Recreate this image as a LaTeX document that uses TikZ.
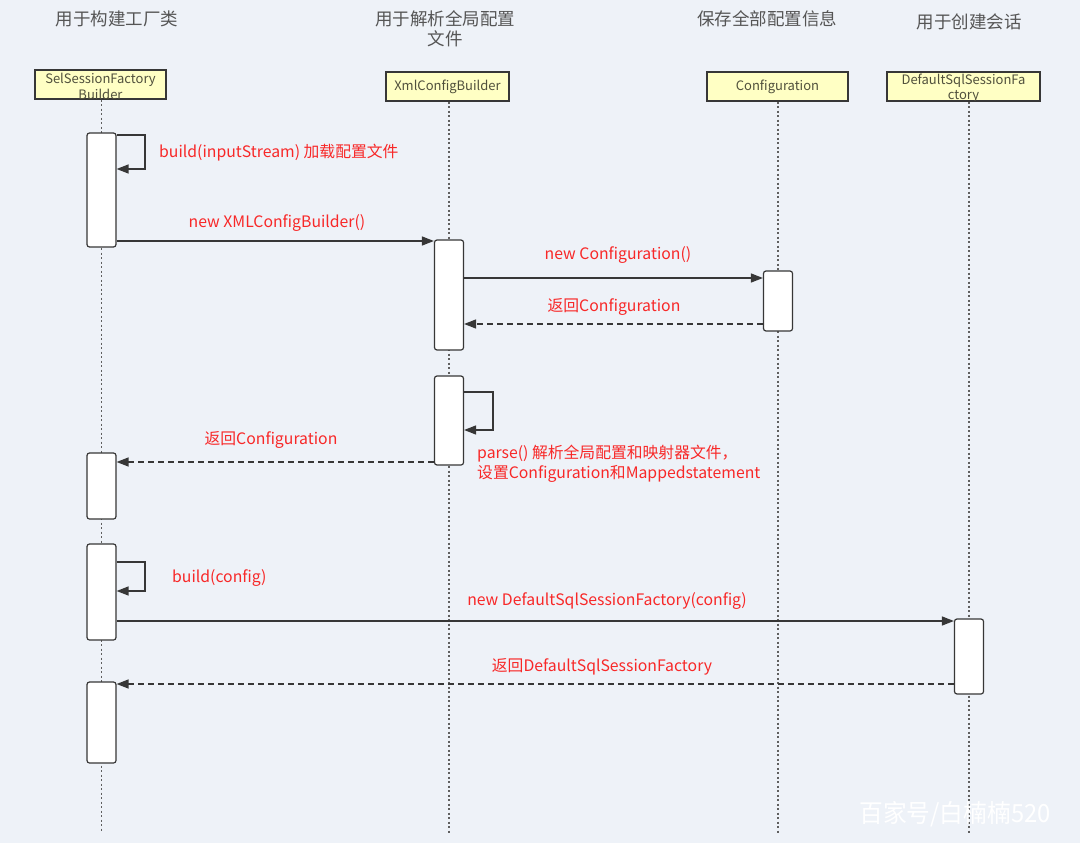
\documentclass[tikz,border=0pt]{standalone}
\usepackage{fontspec}
\setmainfont{Noto Sans CJK SC}
\usetikzlibrary{arrows.meta}
\definecolor{bg}{RGB}{238,242,248}
\definecolor{hdfill}{RGB}{255,255,196}
\definecolor{hdtext}{RGB}{80,80,60}
\definecolor{ttl}{RGB}{85,85,85}
\definecolor{lbl}{RGB}{248,40,40}
\definecolor{ln}{RGB}{55,55,55}
\tikzset{
  title/.style={text=ttl, font=\fontsize{17.5}{20}\selectfont, align=center, inner sep=0},
  headbox/.style={draw=ln, line width=1.3pt, fill=hdfill, inner sep=0},
  headtext/.style={text=hdtext, font=\fontsize{13}{15.5}\selectfont, align=center, inner sep=0},
  lifeline/.style={draw=ln!80, line width=1.1pt, dash pattern=on 2pt off 2.5pt},
  act/.style={draw=ln, line width=1.2pt, fill=white, rounded corners=2.5pt, minimum width=29, inner sep=0},
  msg/.style={draw=ln, line width=1.4pt, -{Triangle[length=12pt,width=9pt]}},
  ret/.style={msg, dash pattern=on 6pt off 4pt},
  lab/.style={text=lbl, font=\fontsize{15.8}{19.5}\selectfont, inner sep=0}
}
\begin{document}
\begin{tikzpicture}[x=1pt,y=-1pt]
\fill[bg] (0,0) rectangle (1080,843);
\useasboundingbox (0,0) rectangle (1080,843);

% titles
\node[title] (t1) at (117,19) {用于构建工厂类};
\node[title] (t2) at (445,29) {用于解析全局配置\\文件};
\node[title] (t3) at (767,19) {保存全部配置信息};
\node[title] (t4) at (969,22) {用于创建会话};

% head boxes
\node[headbox, minimum width=131, minimum height=29] (h1) at (100.5,84.5) {};
\node[headbox, minimum width=123, minimum height=29] (h2) at (447.5,86.5) {};
\node[headbox, minimum width=141, minimum height=29] (h3) at (777.5,86.5) {};
\node[headbox, minimum width=153, minimum height=29] (h4) at (963.5,86.5) {};
\begin{scope}
\clip (h1.south west) rectangle (h1.north east);
\node[headtext] (h1t) at (100.5,86.5) {SelSessionFactory\\Builder};
\end{scope}
\node[headtext] (h2t) at (h2) {XmlConfigBuilder};
\node[headtext] (h3t) at (h3) {Configuration};
\begin{scope}
\clip (h4.south west) rectangle (h4.north east);
\node[headtext] (h4t) at (963.5,88.5) {DefaultSqlSessionFa\\ctory};
\end{scope}
\draw[ln, line width=1.3pt] (h1.south west) rectangle (h1.north east);
\draw[ln, line width=1.3pt] (h4.south west) rectangle (h4.north east);

% lifelines
\coordinate (e1) at (101.5,833);
\coordinate (e2) at (449,833);
\coordinate (e3) at (778,833);
\coordinate (e4) at (969,833);
\draw[lifeline] (h1.south -| e1) -- (e1);
\draw[lifeline] (h2.south -| e2) -- (e2);
\draw[lifeline] (h3.south -| e3) -- (e3);
\draw[lifeline] (h4.south -| e4) -- (e4);

% activations
\node[act, minimum height=114] (a1) at (101.5,190) {};
\node[act, minimum height=110] (a2) at (449,295) {};
\node[act, minimum height=60] (a3) at (778,301) {};
\node[act, minimum height=89] (a4) at (449,420.5) {};
\node[act, minimum height=66] (a5) at (101.5,486) {};
\node[act, minimum height=96] (a6) at (101.5,592) {};
\node[act, minimum height=75] (a7) at (969,656.5) {};
\node[act, minimum height=81] (a8) at (101.5,722.5) {};

% self call 1
\draw[msg] (a1.east |- 0,135) -- (145,135) -- (145,169) -- (a1.east |- 0,169);
\node[lab, anchor=west] (l1) at (159,153) {build(inputStream) 加载配置文件};

% new XMLConfigBuilder
\draw[msg] (a1.east |- 0,241) -- (a2.west |- 0,241);
\node[lab] (l2) at (277,223) {new XMLConfigBuilder()};

% new Configuration
\draw[msg] (a2.east |- 0,278) -- (a3.west |- 0,278);
\node[lab] (l3) at (618,255) {new Configuration()};

% return Configuration
\draw[ret] (a3.west |- 0,324) -- (a2.east |- 0,324);
\node[lab] (l4) at (614,307) {返回Configuration};

% self call parse
\draw[msg] (a4.east |- 0,392) -- (493,392) -- (493,430) -- (a4.east |- 0,430);
\node[lab, anchor=north west, align=left] (l5) at (477,445) {parse() 解析全局配置和映射器文件，\\设置Configuration和Mappedstatement};

% return Configuration 2
\draw[ret] (a4.west |- 0,462) -- (a5.east |- 0,462);
\node[lab] (l6) at (271,440) {返回Configuration};

% self call build(config)
\draw[msg] (a6.east |- 0,562) -- (145,562) -- (145,591) -- (a6.east |- 0,591);
\node[lab, anchor=west] (l7) at (172,578) {build(config)};

% new DefaultSqlSessionFactory
\draw[msg] (a6.east |- 0,621) -- (a7.west |- 0,621);
\node[lab] (l8) at (607,601) {new DefaultSqlSessionFactory(config)};

% return DefaultSqlSessionFactory
\draw[ret] (a7.west |- 0,684) -- (a8.east |- 0,684);
\node[lab] (l9) at (602,667) {返回DefaultSqlSessionFactory};

% watermark
\node[text=white, font=\fontsize{25}{28}\selectfont, inner sep=0, xscale=0.95] (wm) at (955,814) {百家号/白楠楠520};
\end{tikzpicture}
\end{document}
